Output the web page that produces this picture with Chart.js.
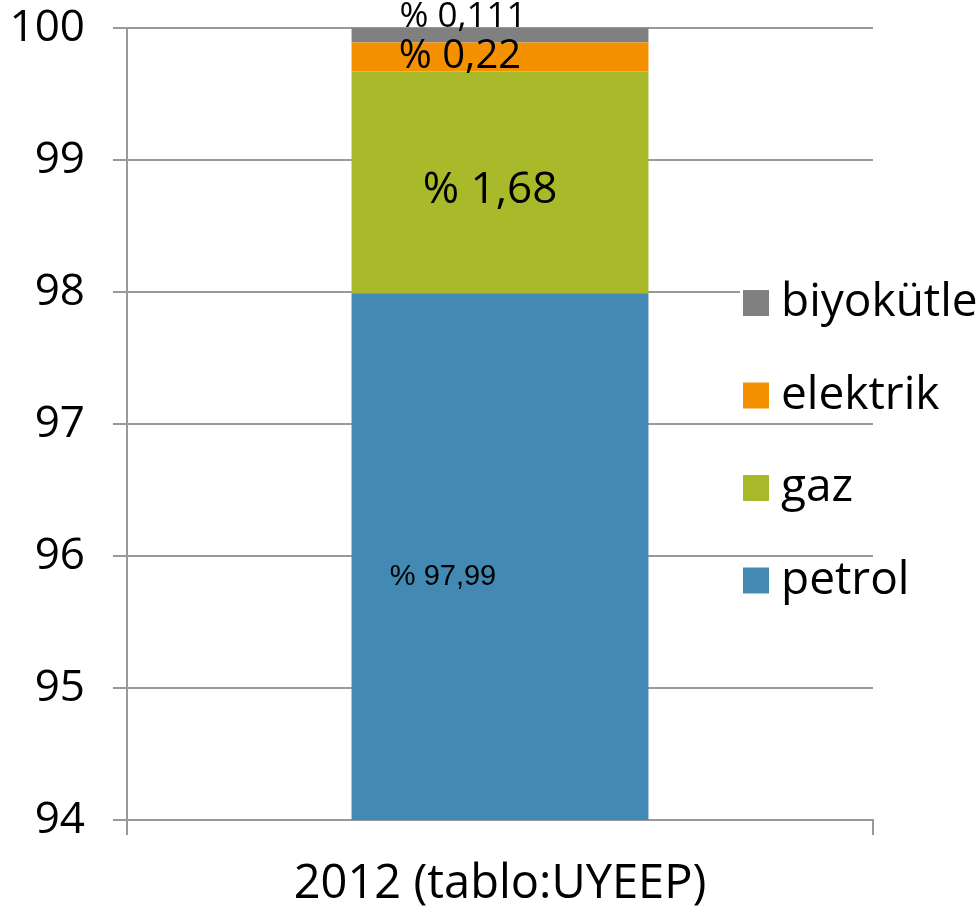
<!DOCTYPE html>
<html>
<head>
<meta charset="utf-8">
<script src="https://cdn.jsdelivr.net/npm/chart.js@4.4.1/dist/chart.umd.min.js"></script>
<style>
  body { margin: 0; background: #fff; }
  #wrap { width: 980px; height: 907px; }
</style>
</head>
<body>
<div id="wrap"><canvas id="chart" width="980" height="907"></canvas></div>
<script>
// values
var categories = ['2012 (tablo:UYEEP)'];
var seriesNames = ['petrol', 'gaz', 'elektrik', 'biyokütle'];
var petrol = [97.99];
var gaz = [1.68];
var elektrik = [0.22];
var biyokutle = [0.111];
var yTicks = [94, 95, 96, 97, 98, 99, 100];

var colors = ['#4289b3', '#a8b92a', '#f59100', '#808080'];
var tickFont = '"Open Sans", sans-serif';

// per-series value label style (offset from bar segment centre)
var labelStyle = [
    { font: '29px "Liberation Sans", Arial, sans-serif', dx: -57, dy: 20 },
    { font: '44px "Open Sans", sans-serif', dx: -10, dy: 8 },
    { font: '40px "Open Sans", sans-serif', dx: -40, dy: 0 },
    { font: '35px "Open Sans", sans-serif', dx: -37, dy: -18 }
];

var valueLabels = {
    id: 'valueLabels',
    afterDatasetsDraw: function (chart) {
        var ctx = chart.ctx;
        var area = chart.chartArea;
        ctx.save();
        ctx.fillStyle = '#000';
        ctx.textAlign = 'center';
        ctx.textBaseline = 'middle';
        chart.data.datasets.forEach(function (ds, i) {
            var bar = chart.getDatasetMeta(i).data[0];
            var st = labelStyle[i];
            var top = Math.max(bar.y, area.top);
            var bottom = Math.min(bar.base, area.bottom);
            var mid = (top + bottom) / 2;
            ctx.font = st.font;
            ctx.fillText('% ' + String(ds.data[0]).replace('.', ','), bar.x + st.dx, mid + st.dy);
        });
        ctx.restore();
    }
};

var sideLegend = {
    id: 'sideLegend',
    afterDraw: function (chart) {
        var ctx = chart.ctx;
        ctx.save();
        ctx.font = '46px ' + tickFont;
        ctx.textBaseline = 'middle';
        ctx.textAlign = 'left';
        var n = chart.data.datasets.length;
        for (var k = 0; k < n; k++) {
            var ds = chart.data.datasets[n - 1 - k];
            var cy = 303 + k * 92.5;
            ctx.fillStyle = '#fff';
            ctx.fillRect(740, cy - 16, 240, 32);
            ctx.fillStyle = ds.backgroundColor;
            ctx.fillRect(743, cy - 13, 26, 26);
            ctx.fillStyle = '#000';
            ctx.fillText(ds.label, 781, cy);
        }
        ctx.restore();
    }
};

new Chart(document.getElementById('chart'), {
    type: 'bar',
    data: {
        labels: categories,
        datasets: [
            { label: seriesNames[0], data: petrol, backgroundColor: colors[0] },
            { label: seriesNames[1], data: gaz, backgroundColor: colors[1] },
            { label: seriesNames[2], data: elektrik, backgroundColor: colors[2] },
            { label: seriesNames[3], data: biyokutle, backgroundColor: colors[3] }
        ]
    },
    options: {
        responsive: false,
        animation: false,
        layout: { padding: { left: 10, right: 107, top: 28, bottom: 0 } },
        datasets: { bar: { categoryPercentage: 1, barPercentage: 0.398, borderWidth: 0 } },
        plugins: { legend: { display: false }, tooltip: { enabled: false } },
        scales: {
            x: {
                stacked: true,
                afterFit: function (axis) { axis.height = 87; },
                grid: { display: true, drawOnChartArea: false, drawTicks: true, tickLength: 15, color: '#999', lineWidth: 2 },
                border: { color: '#999', width: 2 },
                ticks: { color: '#000', padding: 21, font: { family: tickFont, size: 47 } }
            },
            y: {
                stacked: true,
                min: yTicks[0],
                max: yTicks[yTicks.length - 1],
                afterBuildTicks: function (axis) { axis.ticks = yTicks.map(function (v) { return { value: v }; }); },
                afterFit: function (axis) { axis.width = 117; axis.paddingTop = 0; axis.paddingBottom = 0; },
                grid: { color: '#999', lineWidth: 2, tickLength: 14 },
                border: { color: '#999', width: 2 },
                ticks: { color: '#000', padding: 28, font: { family: tickFont, size: 44 } }
            }
        }
    },
    plugins: [valueLabels, sideLegend]
});
</script>
</body>
</html>
